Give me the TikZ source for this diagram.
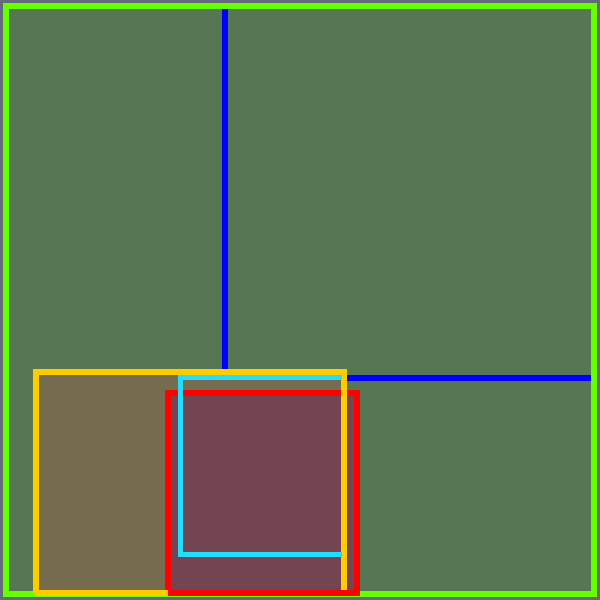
\documentclass[tikz,border=0pt]{standalone}
\begin{document}
\begin{tikzpicture}[x=1pt,y=-1pt,
  edge/.style={line width=6pt},
  frame/.style={edge, draw=limeg, fill=bgg}]
\definecolor{outer}{HTML}{646A7A}
\definecolor{bgg}{HTML}{567654}
\definecolor{limeg}{HTML}{66FF00}
\definecolor{bluel}{HTML}{0000FF}
\definecolor{yel}{HTML}{FFCC00}
\definecolor{yfill}{HTML}{766C50}
\definecolor{cyanl}{HTML}{22DDFF}
\definecolor{redl}{HTML}{FF0000}
\definecolor{rfill}{HTML}{734452}
\useasboundingbox (0,0) rectangle (600,600);
\fill[outer] (0,0) rectangle (600,600);
\draw[frame] (6,6) rectangle (594,594);
% blue lines
\draw[edge, draw=bluel] (225,9) -- (225,370);
\draw[edge, draw=bluel] (346,377.5) -- (591,377.5);
% fills
\fill[yfill] (36,372) rectangle (344,593);
\fill[rfill] (168,393) rectangle (356.5,593);
% outlines
\draw[edge, draw=redl] (168,393) rectangle (356.5,593);
\draw[edge, draw=yel, line width=5.5pt] (36,593) -- (36,372) -- (344,372) -- (344,590);
\draw[edge, draw=yel, line width=5.5pt] (36,593) -- (168,593);
\draw[line width=5pt, draw=cyanl] (342,377.5) -- (180,377.5) -- (180,554) -- (342,554);
\end{tikzpicture}
\end{document}
